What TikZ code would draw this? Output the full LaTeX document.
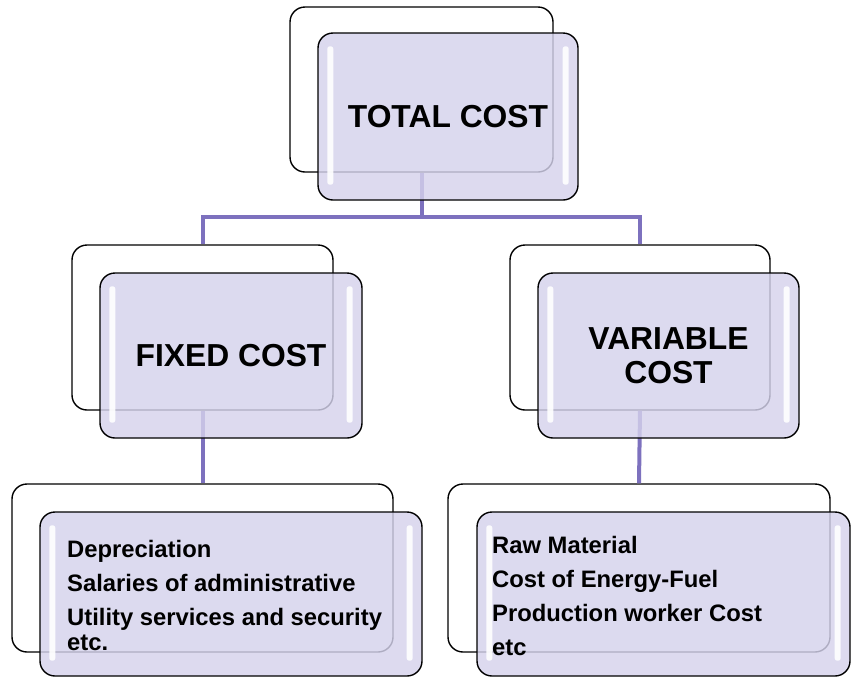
\documentclass[tikz,border=0pt]{standalone}
\usepackage{fontspec}
\setmainfont{Liberation Sans}
\usetikzlibrary{positioning,calc}
\definecolor{boxfill}{RGB}{213,210,236}
\definecolor{linkcol}{RGB}{125,113,190}
\tikzset{
  backbox/.style={draw=black, line width=1.4pt, fill=white, rounded corners=15pt, inner sep=0pt},
  frontbox/.style={draw=black, line width=1.4pt, fill=boxfill, fill opacity=0.82, text opacity=1, rounded corners=15pt, inner sep=0pt},
  link/.style={draw=linkcol, line width=4pt},
  bigtxt/.style={font=\fontsize{31.8}{34}\selectfont\bfseries, align=center},
  smalltxt/.style={font=\fontsize{23.8}{34}\selectfont\bfseries, align=left, anchor=base west, inner sep=0pt},
  shine/.style={fill=white, fill opacity=0.9, rounded corners=2.5pt}
}
\begin{document}
\begin{tikzpicture}[x=1pt,y=-1pt]
\useasboundingbox (0,0) rectangle (852,678);
% back boxes
\node[backbox, minimum width=263pt, minimum height=165pt] (tb) at (421.5,89.5) {};
\node[backbox, minimum width=261pt, minimum height=165pt] (fb) at (202.5,327.5) {};
\node[backbox, minimum width=260pt, minimum height=165pt] (vb) at (640,327.5) {};
\node[backbox, minimum width=381pt, minimum height=168pt] (lb) at (202.5,568) {};
\node[backbox, minimum width=382pt, minimum height=168pt] (rb) at (639,568) {};
% connectors
\draw[link] (tb.south) -- ++(0,44) coordinate (hub) -| (fb.north);
\draw[link] (hub) -| (vb.north);
\draw[link] (fb.south) -- (lb.north);
\draw[link] (vb.south) -- (rb.north);
% front boxes
\node[frontbox, minimum width=260pt, minimum height=167pt] (tf) at (448,116.5) {};
\node[frontbox, minimum width=262pt, minimum height=165pt] (ff) at (231,355.5) {};
\node[frontbox, minimum width=261pt, minimum height=165pt] (vf) at (668.5,355.5) {};
\node[frontbox, minimum width=382pt, minimum height=164pt] (lf) at (231,594) {};
\node[frontbox, minimum width=373pt, minimum height=164pt] (rf) at (663.5,594) {};
% highlights
\foreach \n in {tf,ff,vf,lf,rf}{
  \path[shine] ([xshift=10pt,yshift=-14pt]\n.north west) rectangle ([xshift=16pt,yshift=16pt]\n.south west);
  \path[shine] ([xshift=-16pt,yshift=-14pt]\n.north east) rectangle ([xshift=-10pt,yshift=16pt]\n.south east);
}
% texts
\node[bigtxt] (tt) at (tf.center) {TOTAL COST};
\node[bigtxt] (ft) at (ff.center) {FIXED COST};
\node[bigtxt] (vt) at (vf.center) {VARIABLE\\COST};
\node[smalltxt] (lt) at (67,650) {Depreciation\\Salaries of administrative\\Utility services and security\\[-9pt]etc.};
\node[smalltxt] (rt) at (492,655) {Raw Material\\Cost of Energy-Fuel\\Production worker Cost\\etc};
\end{tikzpicture}
\end{document}
